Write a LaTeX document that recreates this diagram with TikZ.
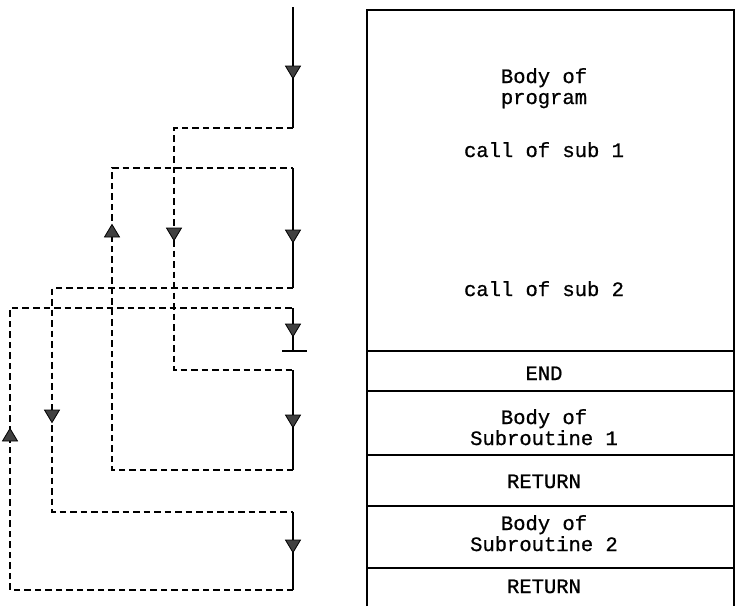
\documentclass[tikz,border=0pt]{standalone}
\usepackage{fontspec}
\setmonofont[FakeBold=0.8]{Liberation Mono}
\begin{document}
\begin{tikzpicture}[x=1pt,y=-1pt,
  solidflow/.style={line width=1.6pt},
  dashflow/.style={line width=2pt,dash pattern=on 6.5pt off 4pt},
  boxline/.style={line width=1.8pt},
  lbl/.style={font=\ttfamily\fontsize{20.5}{22}\selectfont,anchor=base,inner sep=0pt},
  downarr/.pic={\filldraw[fill=black!75,line width=0.8pt] (-7.5,-6) -- (7.5,-6) -- (0,6.5) -- cycle;},
  uparr/.pic={\filldraw[fill=black!75,line width=0.8pt] (-7.5,6) -- (7.5,6) -- (0,-6.5) -- cycle;}
]
\useasboundingbox (0,0) rectangle (736,606);

% memory box
\coordinate (tl) at (367,10);
\coordinate (tr) at (734,10);
\coordinate (bl) at (367,606);
\coordinate (br) at (734,606);
\draw[boxline] (bl) -- (tl) -- (tr) -- (br);
\foreach \yy/\nm in {351/d1,391/d2,455/d3,506/d4,568/d5}{
  \coordinate (\nm l) at (367,\yy);
  \coordinate (\nm r) at (734,\yy);
  \draw[boxline] (\nm l) -- (\nm r);
}

% texts
\node[lbl] (t1) at (544,83) {Body of};
\node[lbl] (t2) at (544,104) {program};
\node[lbl] (t3) at (544,157) {call of sub 1};
\node[lbl] (t4) at (544,296) {call of sub 2};
\node[lbl] (t5) at (544,380) {END};
\node[lbl] (t6) at (544,424) {Body of};
\node[lbl] (t7) at (544,445) {Subroutine 1};
\node[lbl] (t8) at (544,488) {RETURN};
\node[lbl] (t9) at (544,530) {Body of};
\node[lbl] (t10) at (544,551) {Subroutine 2};
\node[lbl] (t11) at (544,593) {RETURN};

% flow coordinates
\coordinate (m0) at (293,7);
\coordinate (m1) at (293,128);
\coordinate (m2) at (293,168);
\coordinate (m3) at (293,288);
\coordinate (m4) at (293,308);
\coordinate (m5) at (293,351);
\coordinate (m6) at (293,370);
\coordinate (m7) at (293,470);
\coordinate (m8) at (293,512);
\coordinate (m9) at (293,590);
\coordinate (barl) at (282,351);
\coordinate (barr) at (307,351);

\coordinate (a1) at (174,128);
\coordinate (a2) at (174,370);
\coordinate (b1) at (112,470);
\coordinate (b2) at (112,168);
\coordinate (c1) at (52,288);
\coordinate (c2) at (52,512);
\coordinate (e1) at (10,590);
\coordinate (e2) at (10,308);

% solid segments
\draw[solidflow] (m0) -- (m1);
\draw[solidflow] (m2) -- (m3);
\draw[solidflow] (m4) -- (m5);
\draw[solidflow] (barl) -- (barr);
\draw[solidflow] (m6) -- (m7);
\draw[solidflow] (m8) -- (m9);

% dashed jumps
\draw[dashflow] (m1) -- (a1) -- (a2) -- (m6);
\draw[dashflow] (m7) -- (b1) -- (b2) -- (m2);
\draw[dashflow] (m3) -- (c1) -- (c2) -- (m8);
\draw[dashflow] (m9) -- (e1) -- (e2) -- (m4);

% arrowheads
\pic at (293,72) {downarr};
\pic at (293,236) {downarr};
\pic at (174,234) {downarr};
\pic at (112,231) {uparr};
\pic at (293,330) {downarr};
\pic at (293,421) {downarr};
\pic at (52,416) {downarr};
\pic at (10,435) {uparr};
\pic at (293,546) {downarr};
\end{tikzpicture}
\end{document}
